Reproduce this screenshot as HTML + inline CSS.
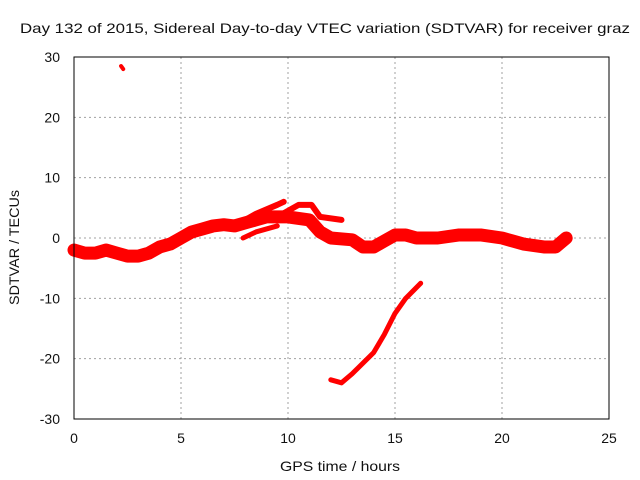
<!DOCTYPE html>
<html><head><meta charset="utf-8"><style>
body{margin:0;background:#fff}
svg{display:block;font-family:"Liberation Sans",sans-serif;font-size:14px}
</style></head><body>
<svg id="c" width="640" height="480">
<text x="20" y="33" textLength="610" lengthAdjust="spacingAndGlyphs" fill="#111">Day 132 of 2015, Sidereal Day-to-day VTEC variation (SDTVAR) for receiver graz</text>
<text x="280" y="471" textLength="120" lengthAdjust="spacingAndGlyphs" fill="#111">GPS time / hours</text>
<text transform="translate(19,305) rotate(-90)" textLength="115" lengthAdjust="spacingAndGlyphs" fill="#111">SDTVAR / TECUs</text>
<g id="grid"></g><g id="marks"></g>
<rect x="74" y="57" width="535" height="362" fill="none" stroke="#000"/>
</svg>
<script>
const xTicks=[0,5,10,15,20,25];
const yTicks=[-30,-20,-10,0,10,20,30];
const mainBand=[[0,-2],[0.5,-2.5],[1,-2.5],[1.5,-2],[2,-2.5],[2.5,-3],[3,-3],[3.5,-2.5],[4,-1.5],[4.5,-1],[5,0],[5.5,1],[6,1.5],[6.5,2],[7,2.2],[7.5,2],[8,2.5],[8.5,3],[9,3.5],[10,3.5],[11,3],[11.5,1],[12,0],[13,-0.3],[13.5,-1.5],[14,-1.5],[14.5,-0.5],[15,0.5],[15.5,0.5],[16,0],[17,0],[18,0.5],[19,0.5],[20,0],[20.5,-0.5],[21,-1],[22,-1.5],[22.5,-1.5],[23,0]];
const branchA=[[7.5,2],[8.5,4],[9.5,5.5],[9.8,6]];
const branchB=[[9.5,3.5],[10.5,5.5],[11.1,5.5],[11.5,3.5],[12.5,3]];
const branchC=[[7.9,0],[8.5,1],[9,1.5],[9.5,2]];
const descent=[[12,-23.5],[12.5,-24],[13,-22.5],[14,-19],[14.5,-16],[15,-12.5],[15.5,-10],[16.2,-7.5]];
const outlier=[[2.2,28.5],[2.3,28]];
const X=v=>74+v*535/25, Y=v=>238-v*362/60;
const NS="http://www.w3.org/2000/svg";
const g=document.getElementById('grid'), m=document.getElementById('marks');
function el(t,a,p){const e=document.createElementNS(NS,t);for(const k in a)e.setAttribute(k,a[k]);p.appendChild(e);return e;}
xTicks.forEach(t=>{
 if(t>0&&t<25){const l=el('line',{x1:X(t),x2:X(t),y1:57,y2:419,stroke:'#a0a0a0','stroke-dasharray':'2,3'},g);
 
 }
 const tx=el('text',{x:X(t),y:443,'text-anchor':'middle',fill:'#111'},g);tx.textContent=t;
 
 
});
yTicks.forEach(t=>{
 if(t>-30&&t<30){const l=el('line',{x1:74,x2:609,y1:Y(t),y2:Y(t),stroke:'#a0a0a0','stroke-dasharray':'2,3'},g);
 
 }
 const tx=el('text',{x:60,y:Y(t)+5,'text-anchor':'end',fill:'#111'},g);tx.textContent=t;
 
 
});
function series(d,w,name){
 const p=el('polyline',{points:d.map(q=>X(q[0])+','+Y(q[1])).join(' '),fill:'none',stroke:'#ff0000','stroke-width':w,'stroke-linejoin':'round','stroke-linecap':'round'},m);
 
 
}
series(mainBand,13,'main-band-series');
series(branchA,6,'upper-branch-a');
series(branchB,6,'upper-branch-b');
series(branchC,5,'lower-branch');
series(descent,5,'descent-series');
series(outlier,4,'outlier-points');
</script>
</body></html>
